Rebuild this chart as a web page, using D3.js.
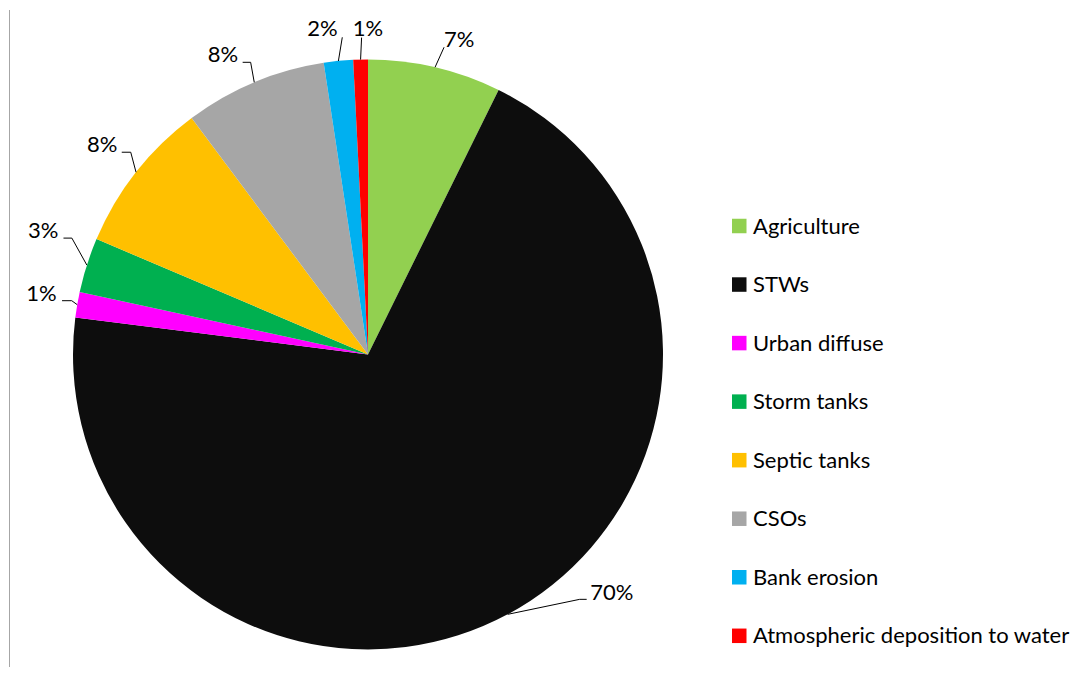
<!DOCTYPE html>
<html>
<head>
<meta charset="utf-8">
<script src="https://cdn.jsdelivr.net/npm/d3@7"></script>
<style>
  html, body { margin: 0; padding: 0; background: #ffffff; }
  svg { display: block; }
  text { font-family: Lato, "Open Sans", sans-serif; fill: #000000; }
</style>
</head>
<body>
<script>
// Phosphorus load apportionment by source (% of total)
const sources = ["Agriculture", "STWs", "Urban diffuse", "Storm tanks",
                 "Septic tanks", "CSOs", "Bank erosion", "Atmospheric deposition to water"];
const shares  = [7.3, 69.7, 1.4, 3.0, 8.4, 7.8, 1.6, 0.8];
const colours = ["#92d050", "#0d0d0d", "#ff00ff", "#00b050",
                 "#ffc000", "#a6a6a6", "#00b0f0", "#ff0000"];

// Leader-line layout per slice: elbow offset from the arc midpoint,
// horizontal stub length, and text offset from the stub end.
const labelLayout = [
  { ex: 9,    ey: -20,   stub: 0,    tx: 0,    ty: -0.5, anchor: "start"  },
  { ex: 72,   ey: -15,   stub: 7,    tx: 3.5,  ty: 0.7,  anchor: "start"  },
  { ex: -5.5, ey: -4,    stub: -9.7, tx: -5.5, ty: 0,    anchor: "end"    },
  { ex: -15,  ey: -27,   stub: -8.4, tx: -5,   ty: 0.3,  anchor: "end"    },
  { ex: -5.3, ey: -20,   stub: -9,   tx: -4.4, ty: -0.6, anchor: "end"    },
  { ex: -3.6, ey: -20,   stub: -8,   tx: -4.4, ty: -0.6, anchor: "end"    },
  { ex: 3.9,  ey: -23.7, stub: 0,    tx: -4.6, ty: -1.3, anchor: "end"    },
  { ex: 1,    ey: -22,   stub: 0,    tx: 6.3,  ty: -2,   anchor: "middle" }
];

const W = 1091, H = 679;
const cx = 368, cy = 354.5, R = 295;
const fontSize = 22;

const svg = d3.select("body").append("svg")
  .attr("width", W).attr("height", H);

// thin frame edge on the left
svg.append("line")
  .attr("x1", 9.5).attr("x2", 9.5).attr("y1", 10).attr("y2", 667)
  .attr("stroke", "#a6a6a6").attr("stroke-width", 1);

const data = sources.map((s, i) => ({ name: s, value: shares[i], colour: colours[i], layout: labelLayout[i] }));

const pie = d3.pie().value(d => d.value).sort(null);
const arcs = pie(data);
const arc = d3.arc().innerRadius(0).outerRadius(R);

const g = svg.append("g").attr("transform", `translate(${cx},${cy})`);

g.selectAll("path.slice")
  .data(arcs)
  .join("path")
  .attr("class", "slice")
  .attr("d", arc)
  .attr("fill", d => d.data.colour);

// Data labels with leader lines
const labels = g.append("g");
arcs.forEach(d => {
  const a = (d.startAngle + d.endAngle) / 2;
  const px = R * Math.sin(a), py = -R * Math.cos(a);
  const L = d.data.layout;
  const exx = px + L.ex, eyy = py + L.ey;
  const sx = exx + L.stub;
  const pts = [[px, py], [exx, eyy]];
  if (L.stub !== 0) pts.push([sx, eyy]);
  labels.append("path")
    .attr("d", d3.line()(pts))
    .attr("fill", "none")
    .attr("stroke", "#000000")
    .attr("stroke-width", 1);
  labels.append("text")
    .attr("x", sx + L.tx)
    .attr("y", eyy + L.ty)
    .attr("text-anchor", L.anchor)
    .style("font-size", fontSize + "px")
    .text(Math.round(d.data.value) + "%");
});

// Legend
const legendY = d3.scalePoint().domain(sources).range([226, 635.8]);
const legend = svg.append("g");
const item = legend.selectAll("g")
  .data(data)
  .join("g")
  .attr("transform", d => `translate(732,${legendY(d.name)})`);
item.append("rect")
  .attr("x", 0).attr("y", -7.25)
  .attr("width", 14.5).attr("height", 14.5)
  .attr("fill", d => d.colour);
item.append("text")
  .attr("x", 21).attr("y", 7.5)
  .style("font-size", fontSize + "px")
  .text(d => d.name);
</script>
</body>
</html>
